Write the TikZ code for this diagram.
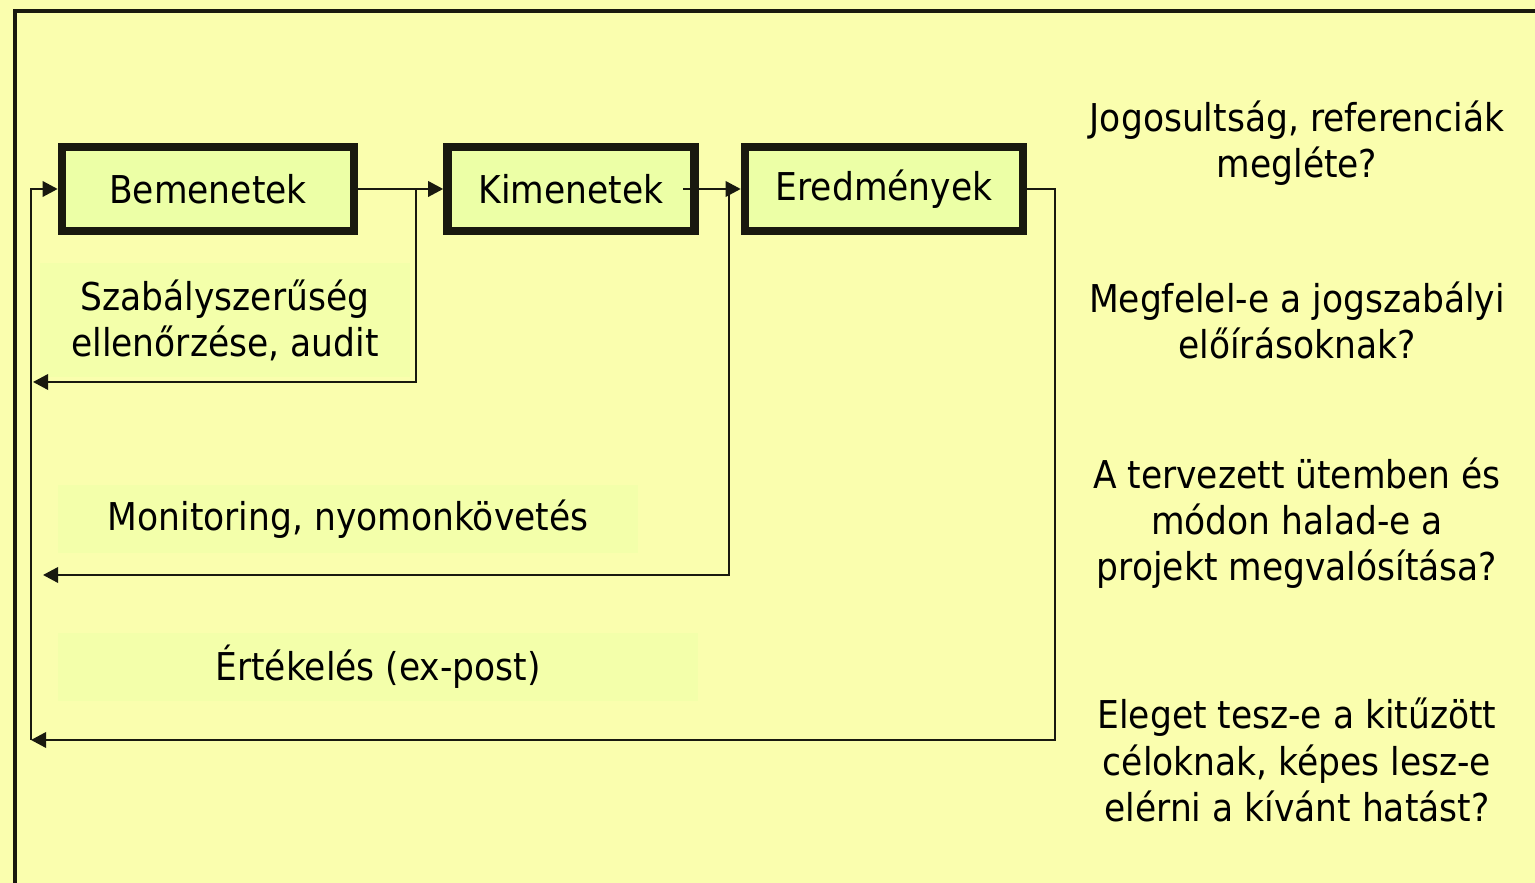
\documentclass[tikz,border=0pt]{standalone}
\usepackage{fontspec}
\setmainfont{DejaVu Sans}[FakeStretch=0.9]
\usetikzlibrary{arrows.meta}

\definecolor{paper}{RGB}{250,254,174}
\definecolor{boxgreen}{RGB}{236,255,166}
\definecolor{labelgreen}{RGB}{243,255,170}
\definecolor{ink}{RGB}{25,25,15}

\begin{document}
\begin{tikzpicture}[x=0.01cm, y=-0.01cm,
    stage/.style={draw=ink, line width=2.4pt, fill=boxgreen, minimum height=0.84cm, inner sep=0pt, font=\fontsize{10.9}{13}\selectfont},
    loop label/.style={fill=labelgreen, align=center, inner sep=0pt, font=\fontsize{10.9}{13.1}\selectfont},
    question/.style={align=center, inner sep=0pt, font=\fontsize{10.9}{13.1}\selectfont},
    link/.style={draw=ink, line width=0.65pt, -{Triangle[length=4.3pt,width=4.4pt]}}]

    \fill[paper] (0,0) rectangle (1535,883);
    \useasboundingbox (0,0) rectangle (1535,883);
    \draw[ink, line width=0.9pt] (15,883) -- (15,11) -- (1535,11);

    \node[stage, minimum width=2.92cm] at (208,189) (bem) {Bemenetek};
    \node[stage, minimum width=2.47cm] at (571,189) (kim) {Kimenetek};
    \node[stage, minimum width=2.78cm] at (884,189) (ere) {Eredmények};

    \node[loop label, minimum width=3.7cm, minimum height=1.13cm] at (225,320) (audit) {Szabályszerűség\\ellenőrzése, audit};
    \node[loop label, minimum width=5.8cm, minimum height=0.67cm] at (348,519) (monitor) {Monitoring, nyomonkövetés};
    \node[loop label, minimum width=6.4cm, minimum height=0.67cm] at (378,667) (eval) {Értékelés (ex-post)};

    \node[question] at (1297,143) (q1) {Jogosultság, referenciák\\megléte?};
    \node[question] at (1297,320) (q2) {Megfelel-e a jogszabályi\\előírásoknak?};
    \node[question] at (1297,523) (q3) {A tervezett ütemben és\\módon halad-e a\\projekt megvalósítása?};
    \node[question] at (1297,760) (q4) {Eleget tesz-e a kitűzött\\céloknak, képes lesz-e\\elérni a kívánt hatást?};

    \coordinate (audittap) at (416,189);
    \coordinate (auditend) at (33,382);
    \coordinate (kimout) at (683,189);
    \coordinate (montap) at (729,189);
    \coordinate (monend) at (43,575);
    \coordinate (evalturn) at (1055,740);
    \coordinate (loopbot) at (31,740);
    \coordinate (looptop) at (31,189);

    \draw[link] (bem.east) -- (kim.west);
    \draw[link] (kimout) -- (ere.west);
    \draw[link] (audittap) |- (auditend);
    \draw[link] (montap) |- (monend);
    \draw[link] (ere.east) -| (evalturn) -- (loopbot);
    \draw[link] (loopbot) -- (looptop) -- (bem.west);
\end{tikzpicture}
\end{document}
